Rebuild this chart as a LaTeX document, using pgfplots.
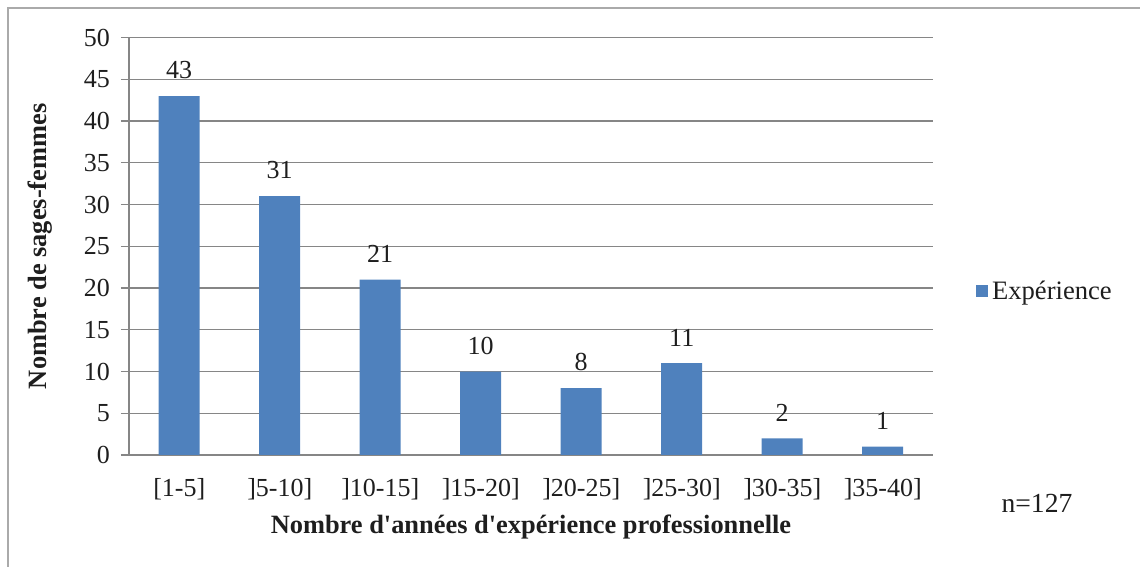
\documentclass[border=0pt]{standalone}
\usepackage{fontspec}
\setmainfont{Liberation Serif}
\usepackage{pgfplots}
\pgfplotsset{compat=1.18}
\definecolor{barblue}{RGB}{79,129,189}
\definecolor{gridgray}{RGB}{134,134,134}
\definecolor{txt}{RGB}{30,30,30}
\begin{document}
\begin{tikzpicture}[x=0.5pt,y=0.5pt]
\useasboundingbox (0,0) rectangle (1140,567);
\draw[gridgray!70,line width=0.6pt] (8,0) -- (8,559) -- (1140,559);
\begin{axis}[
  at={(129*0.5pt,112*0.5pt)}, anchor=south west,
  scale only axis, width=402pt, height=208.7pt,
  ymin=0, ymax=50, ytick={0,5,...,50},
  xmin=-0.5, xmax=7.5, xtick=data,
  xticklabels={{[1-5]},{]5-10]},{]10-15]},{]15-20]},{]20-25]},{]25-30]},{]30-35]},{]35-40]}},
  ybar, bar width=20.5pt,
  ymajorgrids, grid style={gridgray,line width=0.6pt},
  axis line style={gridgray,line width=0.6pt},
  axis x line*=bottom, axis y line*=left,
  x axis line style={-}, y axis line style={-},
  ytick style={gridgray,line width=0.6pt}, major tick length=4pt,
  ytick align=outside, xtick style={draw=none},
  tick label style={font=\fontsize{13}{15}\selectfont, text=txt},
  yticklabel style={xshift=-2pt},
  xticklabel style={yshift=-4pt},
  /pgf/number format/assume math mode=true,
  ylabel={\textbf{Nombre de sages-femmes}},
  xlabel={\textbf{Nombre d\textquotesingle années d\textquotesingle expérience professionnelle}},
  label style={font=\fontsize{13.2}{15}\selectfont, text=txt},
  ylabel style={yshift=9pt},
  xlabel style={yshift=-1pt},
  nodes near coords,
  nodes near coords style={font=\fontsize{13}{15}\selectfont, text=txt, yshift=5pt},
  legend style={draw=none, at={(1.045,0.392)}, anchor=west, font=\fontsize{13.3}{15}\selectfont, text=txt},
  legend image code/.code={\fill[barblue] (0cm,-0.1cm) rectangle (0.22cm,0.12cm);},
  legend cell align=left,
  every legend entry/.append style={xshift=3pt},
]
\addplot[fill=barblue, draw=none] coordinates {(0,43) (1,31) (2,21) (3,10) (4,8) (5,11) (6,2) (7,1)};
\addlegendentry{Expérience}
\end{axis}
\node[font=\fontsize{13.8}{15}\selectfont, text=txt] at (1037,64) {n=127};
\end{tikzpicture}
\end{document}
